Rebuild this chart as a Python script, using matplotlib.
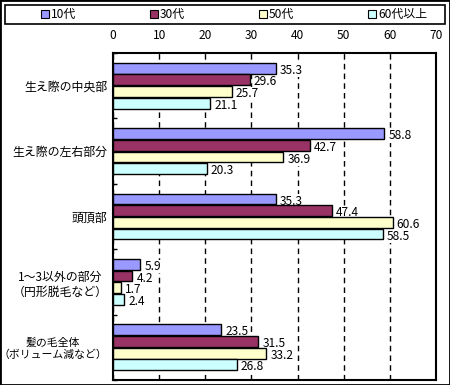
import numpy as np
import matplotlib
matplotlib.use("Agg")
from matplotlib import pyplot as plt
from matplotlib.patches import Rectangle, Patch

plt.rcParams['font.family'] = ['Noto Sans CJK JP', 'DejaVu Sans']
plt.rcParams['font.size'] = 8.6

# data
categories = ['生え際の中央部', '生え際の左右部分', '頭頂部',
              '1～3以外の部分\n（円形脱毛など）', '髪の毛全体\n（ボリューム減など）']
series_names = ['10代', '30代', '50代', '60代以上']
teens = [35.3, 58.8, 35.3, 5.9, 23.5]
thirties = [29.6, 42.7, 47.4, 4.2, 31.5]
fifties = [25.7, 36.9, 60.6, 1.7, 33.2]
sixties = [21.1, 20.3, 58.5, 2.4, 26.8]
x_ticks = [0, 10, 20, 30, 40, 50, 60, 70]

colors = ['#9999FF', '#993366', '#FFFFCC', '#CCFFFF']
series = [teens, thirties, fifties, sixties]

W, H = 450, 385
fig = plt.figure(figsize=(W / 100, H / 100), dpi=100)
ax = fig.add_axes([113 / W, 1 - 380 / H, 323 / W, 327 / H])

y = np.arange(len(categories))
pitch = 0.178
for i, (vals, col) in enumerate(zip(series, colors)):
    pos = y + (i - 1.5) * pitch
    ax.barh(pos, vals, height=pitch * 0.93, color=col, edgecolor='black',
            linewidth=1.0, zorder=3)
    for p, v in zip(pos, vals):
        # white box hides the grid line, bars stay on top of it
        ax.annotate(f'{v}', (v, p), xytext=(3, -1.5), textcoords='offset points',
                    ha='left', va='center', fontsize=8.6, zorder=2.5,
                    bbox=dict(facecolor='white', edgecolor='none', pad=0.3))

ax.set_xlim(0, 70)
ax.set_ylim(len(categories) - 0.5, -0.5)
ax.set_xticks(x_ticks)
ax.xaxis.tick_top()
ax.tick_params(axis='x', length=0, pad=8, labelsize=8.6)
ax.set_yticks(y)
ax.set_yticklabels(categories, multialignment='center')
ax.tick_params(axis='y', which='major', length=0, pad=4, labelsize=8.6)
# last label is long, shrink it a bit so it fits inside the figure
ax.get_yticklabels()[-1].set_fontsize(7.8)
ax.set_yticks(np.arange(-0.5, len(categories)), minor=True)
ax.tick_params(axis='y', which='minor', direction='in', length=3, width=1)
ax.grid(axis='x', color='black', linestyle=(0, (4, 3)), linewidth=1, zorder=0)
for s in ax.spines.values():
    s.set_linewidth(1.5)

# legend along the top, with its own frame
handles = [Patch(facecolor=c, edgecolor='black', linewidth=0.8) for c in colors]
fig.legend(handles, series_names, ncol=4, mode='expand', frameon=False,
           loc='center left', bbox_to_anchor=(41 / W, 1 - 24 / H, 386 / W, 19 / H),
           handlelength=0.65, handleheight=0.65, handletextpad=0.2,
           borderpad=0, borderaxespad=0, fontsize=8.6)
fig.add_artist(Rectangle((5 / W, 1 - 24 / H), 440 / W, 19 / H, transform=fig.transFigure,
                         fill=False, edgecolor='black', linewidth=1.2))
fig.add_artist(Rectangle((0, 0), 1, 1, transform=fig.transFigure,
                         fill=False, edgecolor='black', linewidth=2))

fig.savefig('out.png', dpi=100)
